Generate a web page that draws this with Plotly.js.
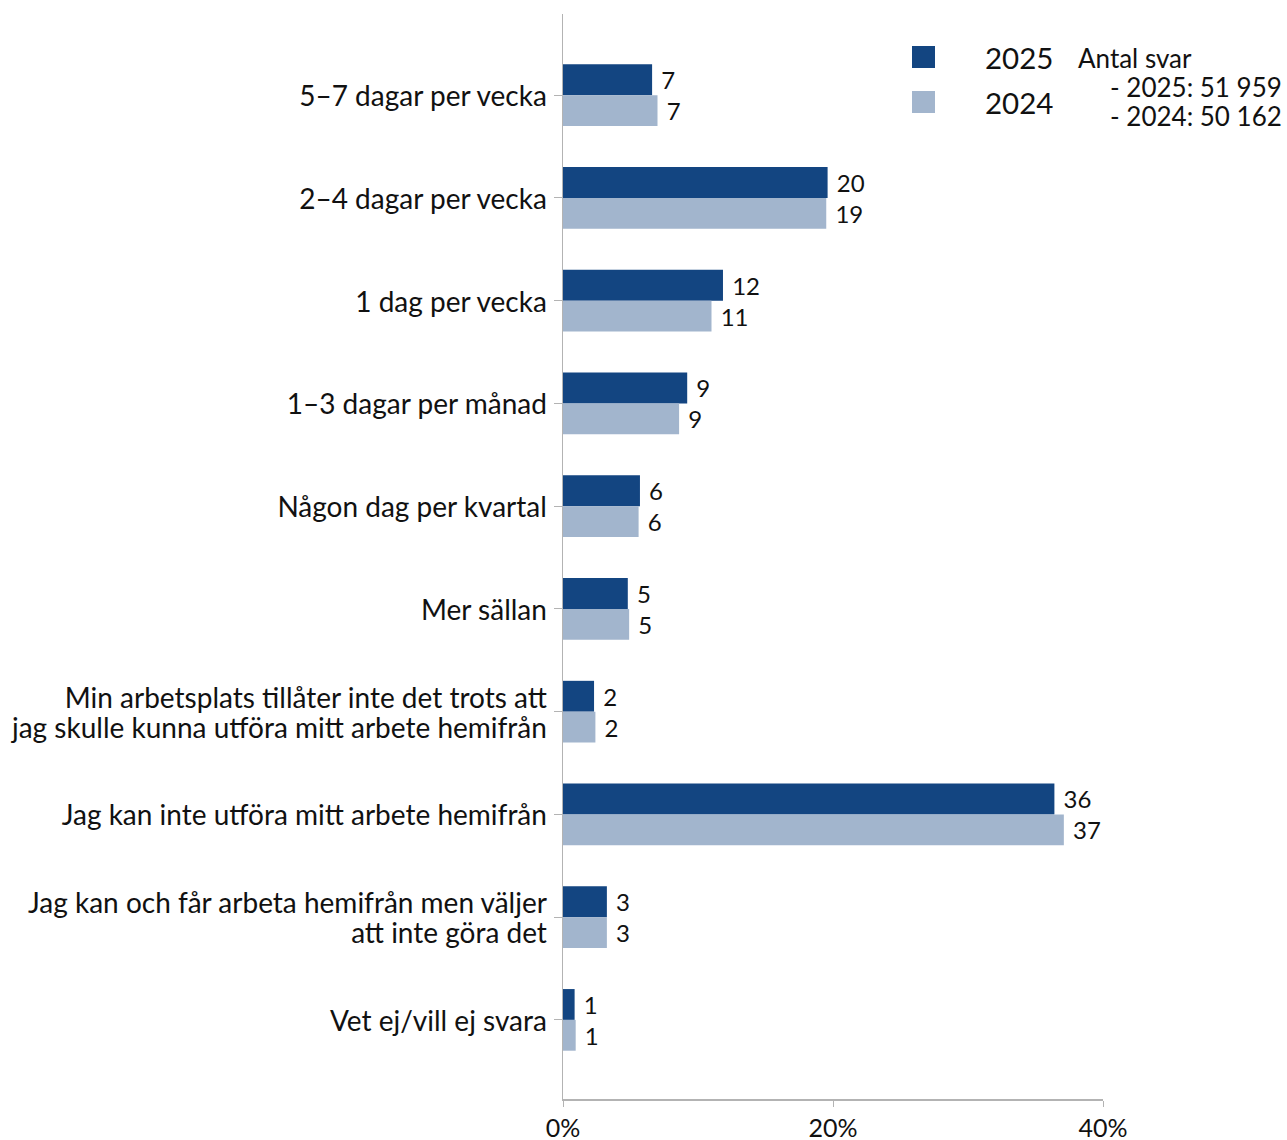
<!DOCTYPE html>
<html><head><meta charset="utf-8">
<script src="https://cdn.plot.ly/plotly-3.0.1.min.js"></script>
<style>html,body{margin:0;padding:0;background:#fff}#chart{width:1287px;height:1140px}</style>
</head><body><div id="chart"></div>
<script>
var categories = [
  "5–7 dagar per vecka",
  "2–4 dagar per vecka",
  "1 dag per vecka",
  "1–3 dagar per månad",
  "Någon dag per kvartal",
  "Mer sällan",
  "Min arbetsplats tillåter inte det trots att<br>jag skulle kunna utföra mitt arbete hemifrån",
  "Jag kan inte utföra mitt arbete hemifrån",
  "Jag kan och får arbeta hemifrån men väljer<br>att inte göra det",
  "Vet ej/vill ej svara"
];
var values2025 = [6.6, 19.6, 11.85, 9.2, 5.7, 4.8, 2.3, 36.4, 3.25, 0.86];
var values2024 = [7.0, 19.5, 11.0, 8.6, 5.6, 4.9, 2.4, 37.1, 3.25, 0.94];
var labels2025 = ["7","20","12","9","6","5","2","36","3","1"];
var labels2024 = ["7","19","11","9","6","5","2","37","3","1"];
var xTickVals = [0, 20, 40];
var xTickText = ["0%", "20%", "40%"];
var seriesNames = ["2025", "2024"];
var noteLines = ["Antal svar", "- 2025: 51 959", "- 2024: 50 162"];

var c2025 = "#134581", c2024 = "#a2b5cd";
var font = "Lato, 'Noto Sans', sans-serif";

// category tick labels: larger glyphs, tighter line spacing
var catTickText = categories.map(function(c){
  return c.split("<br>").map(function(s){return '<span style="font-size:28px">'+s+'</span>';}).join("<br>");
});

var traces = [
  {type:"bar", orientation:"h", name:seriesNames[0], y:categories, x:values2025,
   text:labels2025.map(function(s){return " "+s;}), textposition:"outside", constraintext:"none", cliponaxis:false,
   textfont:{family:font,size:24,color:"#111"}, marker:{color:c2025}, hoverinfo:"x+y"},
  {type:"bar", orientation:"h", name:seriesNames[1], y:categories, x:values2024,
   text:labels2024.map(function(s){return " "+s;}), textposition:"outside", constraintext:"none", cliponaxis:false,
   textfont:{family:font,size:24,color:"#111"}, marker:{color:c2024}, hoverinfo:"x+y"}
];

var L = 563, R = 1103, T = 14, B = 1099, W = 1287, H = 1140;
function px(x){return (x-L)/(R-L);}
function py(y){return (B-y)/(B-T);}

var layout = {
  width:W, height:H,
  margin:{l:L, r:W-R, t:T, b:H-B, pad:0},
  paper_bgcolor:"#fff", plot_bgcolor:"#fff",
  font:{family:font, size:22, color:"#111"},
  barmode:"group", bargap:0.4, bargroupgap:0,
  showlegend:false,
  xaxis:{range:[0,40], tickvals:xTickVals, ticktext:xTickText, showgrid:false, zeroline:false,
         showline:true, linecolor:"#b3b3b3", linewidth:1.5, ticks:"outside", ticklen:6,
         tickcolor:"#b3b3b3", ticklabelstandoff:0, tickfont:{family:font,size:25,color:"#111"}, fixedrange:true},
  yaxis:{type:"category", range:[9.77,-0.79], tickvals:categories, ticktext:catTickText,
         showgrid:false, zeroline:false,
         showline:true, linecolor:"#b3b3b3", linewidth:1.5, ticks:"outside", ticklen:8,
         tickcolor:"#b3b3b3", ticklabelstandoff:2, ticklabelshift:-3,
         tickfont:{family:font,size:23,color:"#111"}, fixedrange:true},
  shapes:[
    {type:"rect", xref:"paper", yref:"paper", x0:px(912), x1:px(935), y0:py(68), y1:py(46), fillcolor:c2025, line:{width:0}},
    {type:"rect", xref:"paper", yref:"paper", x0:px(912), x1:px(935), y0:py(113), y1:py(91), fillcolor:c2024, line:{width:0}}
  ],
  annotations:[
    {xref:"paper", yref:"paper", x:px(983), y:py(57), xanchor:"left", yanchor:"middle", text:seriesNames[0], showarrow:false, font:{family:font,size:29.5,color:"#111"}},
    {xref:"paper", yref:"paper", x:px(983), y:py(103), xanchor:"left", yanchor:"middle", text:seriesNames[1], showarrow:false, font:{family:font,size:29.5,color:"#111"}},
    {xref:"paper", yref:"paper", x:px(1076), y:py(58), xanchor:"left", yanchor:"middle", text:noteLines[0], showarrow:false, font:{family:font,size:26,color:"#111"}},
    {xref:"paper", yref:"paper", x:px(1284), y:py(87), xanchor:"right", yanchor:"middle", text:noteLines[1], showarrow:false, font:{family:font,size:26,color:"#111"}},
    {xref:"paper", yref:"paper", x:px(1284), y:py(116), xanchor:"right", yanchor:"middle", text:noteLines[2], showarrow:false, font:{family:font,size:26,color:"#111"}}
  ]
};
Plotly.newPlot("chart", traces, layout, {displayModeBar:false, staticPlot:true});
</script></body></html>
